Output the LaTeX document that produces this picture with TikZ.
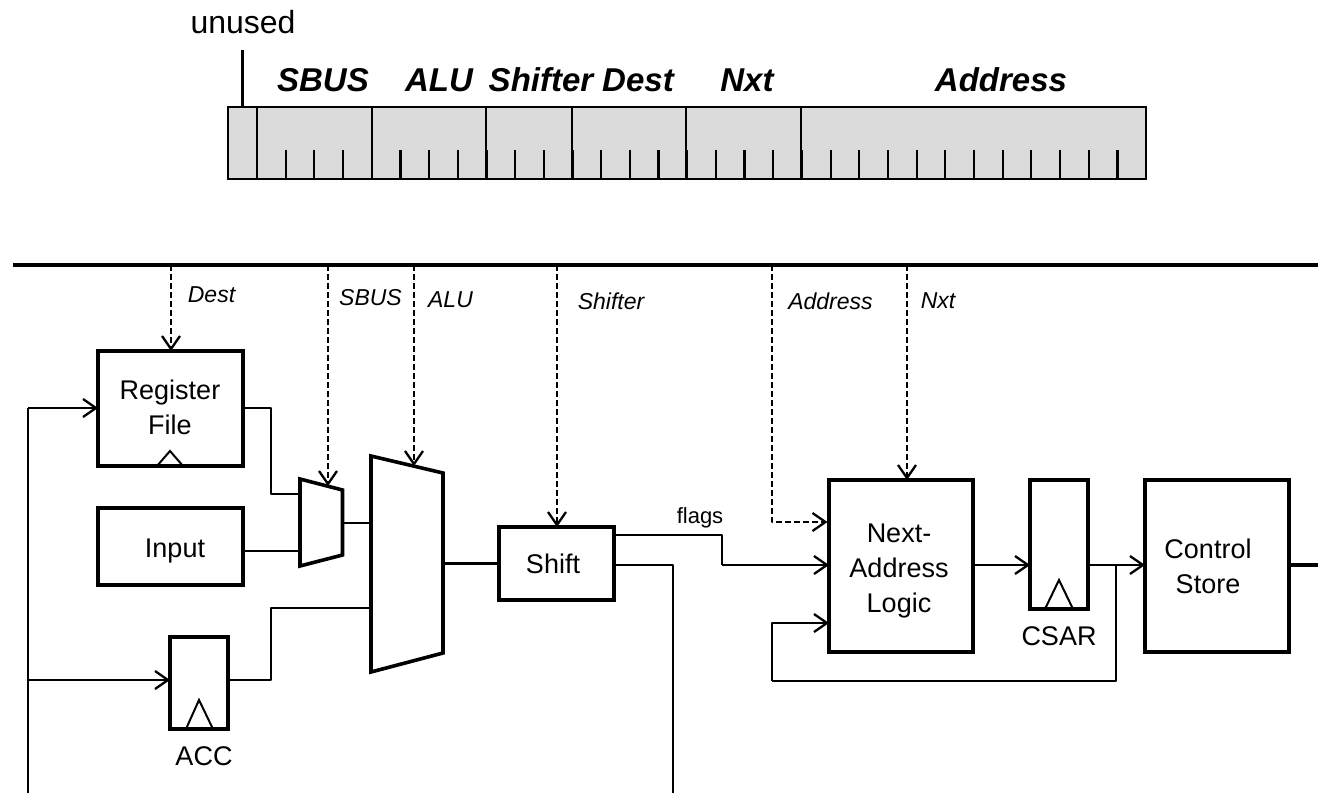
\documentclass[tikz,border=0pt]{standalone}
\usepackage{fontspec}
\setmainfont{Liberation Sans}
\usetikzlibrary{arrows.meta}
\tikzset{
  box/.style={draw=black,line width=3.6pt,rectangle,inner sep=0pt,outer sep=0pt,fill=white},
  wire/.style={draw=black,line width=2.3pt,line join=round},
  arr/.style={wire,-{Straight Barb[length=13pt,width=18pt,line width=2.3pt]}},
  ctl/.style={arr,dash pattern=on 6pt off 3pt},
  txt/.style={font=\fontsize{27}{35}\selectfont,align=center,inner sep=0pt},
  fieldlab/.style={font=\fontsize{33}{36}\selectfont\bfseries\itshape,anchor=base,inner sep=0pt},
  ctllab/.style={font=\fontsize{23}{26}\selectfont\itshape,inner sep=0pt},
  smalllab/.style={font=\fontsize{22}{26}\selectfont,inner sep=0pt},
  tick/.style={draw=black,line width=2.2pt},
  mux/.style={draw=black,line width=3.6pt,line join=miter,fill=white},
}
\begin{document}
\begin{tikzpicture}[x=1pt,y=-1pt]
\useasboundingbox (0,0) rectangle (1318,793);
\fill[white] (0,0) rectangle (1318,793);

% instruction word
\node[draw=black,line width=2.2pt,fill=black!14,minimum width=918pt,minimum height=72pt,inner sep=0pt,outer sep=0pt] (word) at (687,143) {};
\foreach \k in {0,...,30}{
  \draw[tick] (257+28.68*\k,150) -- (257+28.68*\k,179);
}
\foreach \x in {257,372,486,572,686,801}{
  \draw[tick] (\x,107) -- (\x,179);
}
\node[font=\fontsize{32}{36}\selectfont,inner sep=0pt,anchor=base] (unused) at (243,33) {unused};
\coordinate (unusedtop) at (242.5,50);
\draw[tick] (unusedtop) -- (unusedtop |- word.north);
\node[fieldlab] (fsbus) at (323,91) {SBUS};
\node[fieldlab] (falu) at (439,91) {ALU};
\node[fieldlab] (fshift) at (541,91) {Shifter};
\node[fieldlab] (fdest) at (638,91) {Dest};
\node[fieldlab] (fnxt) at (747,91) {Nxt};
\node[fieldlab] (faddr) at (1001,91) {Address};

% control bus
\coordinate (busl) at (13,265);
\coordinate (busr) at (1318,265);
\draw[line width=3.8pt] (busl) -- (busr);

% blocks
\node[box,minimum width=145pt,minimum height=115pt] (reg) at (170.5,408.5) {};
\node[box,minimum width=145pt,minimum height=77pt] (input) at (170.5,546.5) {};
\node[box,minimum width=58pt,minimum height=92pt] (acc) at (199,683) {};
\node[box,minimum width=115pt,minimum height=73pt] (shift) at (556.5,563.5) {};
\node[box,minimum width=144pt,minimum height=172pt] (nal) at (901,566) {};
\node[box,minimum width=58pt,minimum height=129pt] (csar) at (1059,544.5) {};
\node[box,minimum width=144pt,minimum height=172pt] (cs) at (1217,566) {};

\node[txt] (regt) at (170,407) {Register\\File};
\node[txt] (inputt) at (175,551) {Input};
\node[txt] (shiftt) at (553,564) {Shift};
\node[txt] (nalt) at (899,571) {Next-\\Address\\Logic};
\node[txt] (cst) at (1208,566) {Control\\Store};
\node[txt] (acct) at (204,756) {ACC};
\node[txt] (csart) at (1059,636) {CSAR};

% clock triangles
\draw[line width=2pt] (157,466) -- (170,451) -- (183,466);
\draw[line width=2pt] (186,729) -- (199,700) -- (213,729);
\draw[line width=2pt] (1045,609) -- (1059,580) -- (1073,609);

% multiplexers
\coordinate (ma) at (300,479); \coordinate (mb) at (342.5,490);
\coordinate (mc) at (342.5,555); \coordinate (md) at (300,566);
\draw[mux] (ma) -- (mb) -- (mc) -- (md) -- cycle;
\coordinate (na) at (371,456); \coordinate (nb) at (443,473);
\coordinate (nc) at (443,653); \coordinate (nd) at (371,672);
\draw[mux] (na) -- (nb) -- (nc) -- (nd) -- cycle;

% dashed control lines
\coordinate (bdest) at (171,265);
\coordinate (bsbus) at (328,265);
\coordinate (balu) at (414,265);
\coordinate (bshift) at (557,265);
\coordinate (baddr) at (772,265);
\coordinate (bnxt) at (907,265);
\coordinate (msel) at (328,486);
\coordinate (nsel) at (414,466);
\coordinate (naddrin) at (827.5,522);
\draw[ctl] (bdest) -- (bdest |- reg.north);
\draw[ctl] (bsbus) -- (msel);
\draw[ctl] (balu) -- (nsel);
\draw[ctl] (bshift) -- (bshift |- shift.north);
\draw[ctl] (baddr) |- (naddrin);
\draw[ctl] (bnxt) -- (bnxt |- nal.north);
\node[ctllab] (ldest) at (211.5,295) {Dest};
\node[ctllab] (lsbus) at (370.5,298) {SBUS};
\node[ctllab] (lalu) at (450.5,300) {ALU};
\node[ctllab] (lshift) at (611,301) {Shifter};
\node[ctllab] (laddr) at (830.5,301) {Address};
\node[ctllab] (lnxt) at (938,301) {Nxt};

% data path
\coordinate (leftbot) at (28,793);
\coordinate (lefttop) at (28,408);
\coordinate (leftacc) at (28,680);
\coordinate (accin) at (170,680);
\coordinate (accout) at (228,680);
\draw[wire] (leftbot) -- (lefttop);
\draw[arr] (lefttop) -- (lefttop -| reg.west);
\draw[arr] (leftacc) -- (accin);
\coordinate (regj) at (271,408);
\coordinate (regk) at (271,494);
\coordinate (mreg) at (300,494);
\draw[wire] (regj -| reg.east) -- (regj) -- (regk) -- (mreg);
\coordinate (minp) at (300,551);
\draw[wire] (minp -| input.east) -- (minp);
\coordinate (mout) at (342.5,523);
\coordinate (nin) at (371,523);
\draw[wire] (mout) -- (nin);
\coordinate (accj) at (271,680);
\coordinate (acck) at (271,608);
\coordinate (nacc) at (371,608);
\draw[wire] (accout) -- (accj) -- (acck) -- (nacc);
\coordinate (nout) at (443,563.5);
\draw[wire] (nout) -- (shift.west);

% flags and shifter outputs
\coordinate (fl1) at (722,535);
\coordinate (fl2) at (722,565);
\draw[wire] (fl1 -| shift.east) -- (fl1) -- (fl2);
\draw[arr] (fl2) -- (fl2 -| nal.west);
\node[smalllab] (lflags) at (700,518) {flags};
\coordinate (sh1) at (673,565);
\coordinate (sh2) at (673,793);
\draw[wire] (sh1 -| shift.east) -- (sh1) -- (sh2);

% sequencer
\coordinate (nalo) at (973,565);
\draw[arr] (nalo) -- (nalo -| csar.west);
\coordinate (csaro) at (1088,565);
\draw[arr] (csaro) -- (csaro -| cs.west);
\coordinate (fb1) at (1116,565);
\coordinate (fb2) at (1116,681);
\coordinate (fb3) at (772,681);
\coordinate (fb4) at (772,623);
\draw[wire,line width=1.9pt] (fb1) -- (fb2) -- (fb3);
\draw[arr] (fb3) -- (fb4) -- (fb4 -| nal.west);
\coordinate (csout) at (1318,565);
\draw[line width=3.4pt] (cs.east |- csout) -- (csout);
\end{tikzpicture}
\end{document}
